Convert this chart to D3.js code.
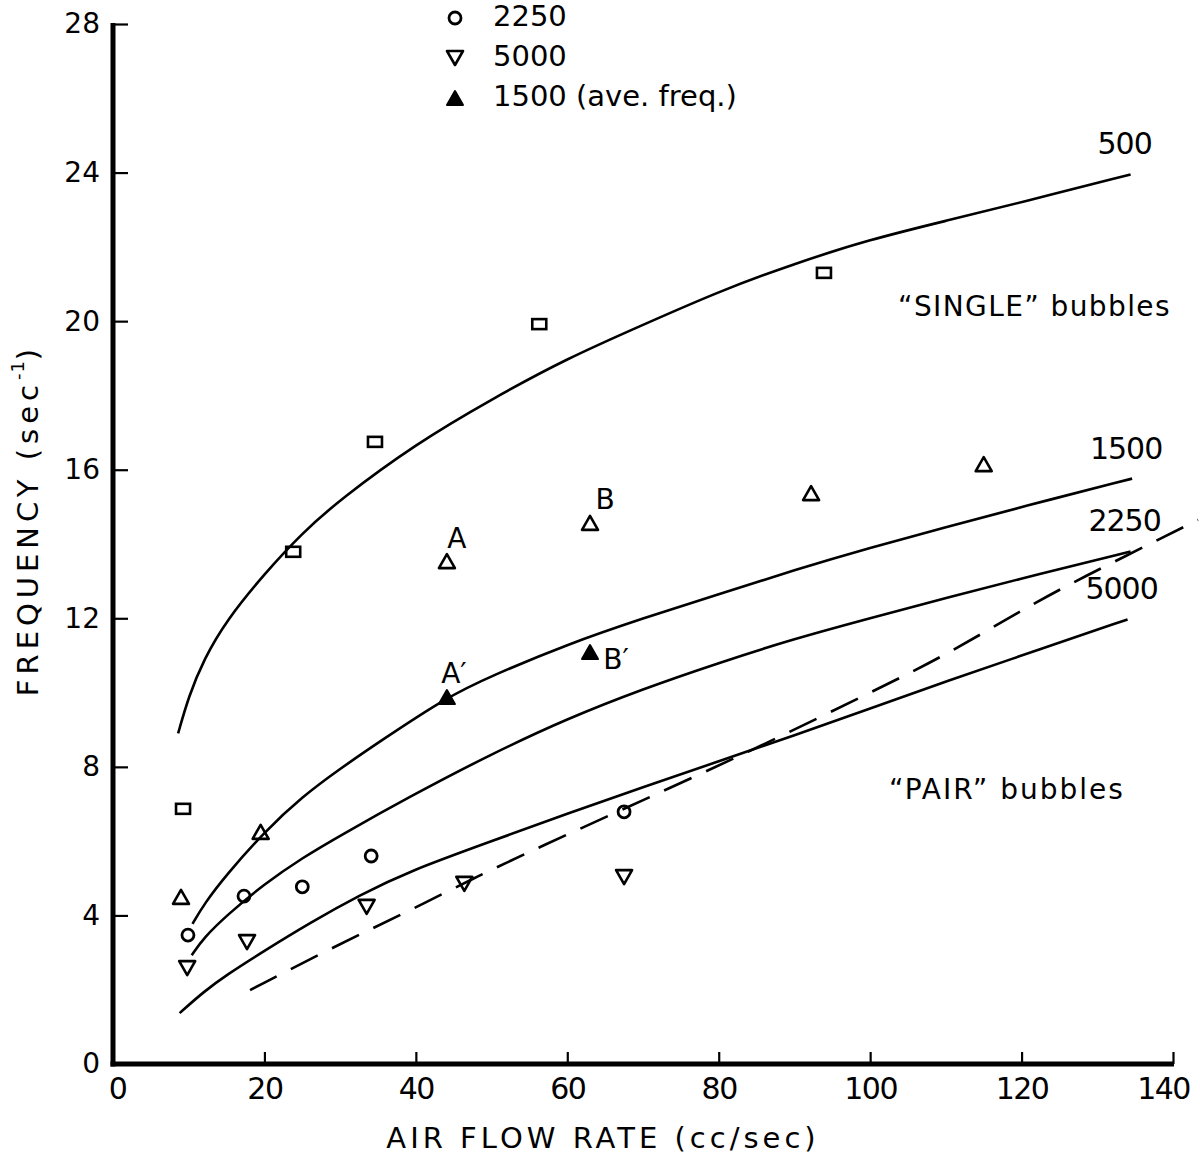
<!DOCTYPE html>
<html>
<head>
<meta charset="utf-8">
<script src="https://cdn.jsdelivr.net/npm/d3@7"></script>
<style>
	body { margin: 0; background: #fff; }
	svg text { font-family: "DejaVu Sans", sans-serif; fill: #000; }
</style>
</head>
<body>
<svg id="chart" width="1200" height="1157"></svg>
<script>
var xTicks = [0, 20, 40, 60, 80, 100, 120, 140];
var yTicks = [0, 4, 8, 12, 16, 20, 24, 28];

// measured points [air flow, frequency]
var pts500 = [[9.25, 6.87], [23.8, 13.79], [34.6, 16.75], [56.3, 19.92], [93.9, 21.3]];
var pts1500 = [[8.98, 4.5], [19.5, 6.25], [44.1, 13.54], [63.0, 14.57], [92.2, 15.37], [115.0, 16.15]];
var pts1500ave = [[44.1, 9.88], [63.0, 11.09]];
var pts2250 = [[9.9, 3.47], [17.3, 4.52], [25.0, 4.77], [34.1, 5.6], [67.5, 6.79]];
var pts5000 = [[9.8, 2.58], [17.7, 3.28], [33.5, 4.23], [46.4, 4.85], [67.5, 5.03]];

// fitted curves
var curve500 = [[8.6, 8.9], [10, 9.9], [12, 10.9], [15, 11.95], [20, 13.2], [25, 14.3], [30, 15.2], [40, 16.7], [50, 17.9], [60, 19.0], [70, 19.9], [80, 20.8], [90, 21.55], [100, 22.2], [110, 22.7], [120, 23.2], [134.4, 23.95]];
var curve1500 = [[10.5, 3.77], [12, 4.3], [15, 5.1], [20, 6.25], [25, 7.2], [30, 7.95], [35, 8.65], [44.1, 9.88], [50, 10.45], [60, 11.3], [70, 12.0], [80, 12.65], [90, 13.3], [100, 13.9], [110, 14.45], [120, 15.0], [134.6, 15.76]];
var curve2250 = [[10.4, 2.93], [12, 3.4], [15, 4.0], [20, 4.85], [25, 5.55], [30, 6.15], [39.2, 7.2], [50, 8.35], [60, 9.3], [70, 10.1], [80, 10.8], [90, 11.45], [100, 12.0], [110, 12.55], [122.5, 13.2], [134.4, 13.8]];
var curve5000 = [[8.8, 1.37], [12, 1.95], [15, 2.4], [20, 3.05], [26, 3.8], [32.6, 4.55], [39.2, 5.2], [50, 6.0], [60, 6.74], [70, 7.45], [80, 8.15], [90, 8.85], [100, 9.57], [110, 10.3], [122.5, 11.17], [134, 11.97]];
var dashed = [[18.1, 1.99], [29.6, 3.2], [38.6, 4.07], [47.6, 5.0], [56.4, 5.85], [70, 7.1], [85, 8.5], [100, 10.0], [110, 11.0], [122.3, 12.5], [131.9, 13.49], [143.3, 14.65]];

var curveLabels = [["500", 134.4, 23.95], ["1500", 134.6, 15.76], ["2250", 134.4, 13.8], ["5000", 134, 11.97]];
var legendKeys = ["circle", "down", "filled"];
var legendTexts = ["2250", "5000", "1500 (ave. freq.)"];

var svg = d3.select("#chart");
var x = d3.scaleLinear().domain([0, 140]).range([113, 1173]);
var y = d3.scaleLinear().domain([0, 28]).range([1064, 24]);

var line = d3.line()
    .x(function (d) { return x(d[0]); })
    .y(function (d) { return y(d[1]); })
    .curve(d3.curveBasis);

// axes: thick spine, inward ticks
var xAxis = svg.append("g")
    .attr("transform", "translate(0," + y(0) + ")")
    .call(d3.axisBottom(x).tickValues(xTicks).tickSize(-12).tickPadding(14));
xAxis.select(".domain").remove();
xAxis.selectAll(".tick line").attr("stroke-width", 2.2);
xAxis.selectAll(".tick text")
    .style("font-size", "30px").style("letter-spacing", "-1.5px")
    .attr("fill", "#000")
    .attr("x", function (d) { return d === 140 ? -10 : (d === 0 ? 4 : 0); });
xAxis.selectAll(".tick").filter(function (d) { return d === 0; }).select("line").remove();

var yAxis = svg.append("g")
    .attr("transform", "translate(" + x(0) + ",0)")
    .call(d3.axisLeft(y).tickValues(yTicks).tickSize(-15).tickPadding(13));
yAxis.select(".domain").remove();
yAxis.selectAll(".tick line").attr("stroke-width", 2.2);
yAxis.selectAll(".tick text").style("font-size", "28px").attr("fill", "#000");
yAxis.selectAll(".tick").filter(function (d) { return d === 0; }).select("line").remove();

svg.append("line")
    .attr("x1", x(0)).attr("x2", x(0))
    .attr("y1", y(28) - 1).attr("y2", y(0) + 2.5)
    .attr("stroke", "#000").attr("stroke-width", 5);
svg.append("line")
    .attr("x1", x(0) - 2.5).attr("x2", x(140) + 1)
    .attr("y1", y(0)).attr("y2", y(0))
    .attr("stroke", "#000").attr("stroke-width", 5);

svg.append("text")
    .attr("x", 603).attr("y", 1140)
    .attr("text-anchor", "middle").attr("dominant-baseline", "middle")
    .style("font-size", "29px").style("letter-spacing", "4px")
    .text("AIR FLOW RATE (cc/sec)");

var yTitle = svg.append("text")
    .attr("transform", "translate(30,520) rotate(-90)")
    .attr("text-anchor", "middle").attr("dominant-baseline", "middle")
    .style("font-size", "29px").style("letter-spacing", "5px");
yTitle.append("tspan").text("FREQUENCY (sec");
yTitle.append("tspan").attr("dy", -11).style("font-size", "18px").style("letter-spacing", "1px").text("-1");
yTitle.append("tspan").attr("dy", 11).text(")");

// curves
[curve500, curve1500, curve2250, curve5000].forEach(function (c) {
	svg.append("path")
	    .datum(c)
	    .attr("d", line)
	    .attr("fill", "none")
	    .attr("stroke", "#000")
	    .attr("stroke-width", 2.6);
});
svg.append("path")
    .datum(dashed)
    .attr("d", line)
    .attr("fill", "none")
    .attr("stroke", "#000")
    .attr("stroke-width", 2.6)
    .attr("stroke-dasharray", "30,16");

svg.selectAll("text.clabel")
    .data(curveLabels)
  .enter()
  .append("text").classed("clabel", true)
    .attr("x", function (d) { return x(d[1]) - 6; })
    .attr("y", function (d) { return y(d[2]) - 20; })
    .attr("text-anchor", "middle")
    .style("font-size", "30px").style("letter-spacing", "-1px")
    .text(function (d) { return d[0]; });

// markers
var markerMaker = {
	square: function (g) {
		g.append("rect")
		    .attr("x", -7).attr("y", -5).attr("width", 14).attr("height", 10)
		    .attr("fill", "none").attr("stroke", "#000").attr("stroke-width", 2.6);
	},
	up: function (g) {
		g.append("path").attr("d", "M0,-7L8,7L-8,7Z")
		    .attr("fill", "none").attr("stroke", "#000").attr("stroke-width", 2.6)
		    .attr("stroke-linejoin", "round");
	},
	filled: function (g) {
		g.append("path").attr("d", "M0,-7L8,7L-8,7Z")
		    .attr("fill", "#000").attr("stroke", "#000").attr("stroke-width", 2)
		    .attr("stroke-linejoin", "round");
	},
	circle: function (g) {
		g.append("circle").attr("r", 6)
		    .attr("fill", "none").attr("stroke", "#000").attr("stroke-width", 2.8);
	},
	down: function (g) {
		g.append("path").attr("d", "M0,7L8,-7L-8,-7Z")
		    .attr("fill", "none").attr("stroke", "#000").attr("stroke-width", 2.6)
		    .attr("stroke-linejoin", "round");
	}
};

function plotPoints(data, kind) {
	svg.append("g").selectAll("g")
	    .data(data)
	  .enter()
	  .append("g")
	    .attr("transform", function (d) { return "translate(" + x(d[0]) + "," + y(d[1]) + ")"; })
	    .each(function () { markerMaker[kind](d3.select(this)); });
}
plotPoints(pts500, "square");
plotPoints(pts1500, "up");
plotPoints(pts1500ave, "filled");
plotPoints(pts2250, "circle");
plotPoints(pts5000, "down");

// A / B labels next to the 1500 points
var abLabels = [["A", pts1500[2], 10, -21], ["B", pts1500[3], 15, -22], ["A\u2032", pts1500ave[0], 7, -22], ["B\u2032", pts1500ave[1], 26, 9]];
svg.selectAll("text.ab")
    .data(abLabels)
  .enter()
  .append("text").classed("ab", true)
    .attr("x", function (d) { return x(d[1][0]) + d[2]; })
    .attr("y", function (d) { return y(d[1][1]) + d[3]; })
    .attr("text-anchor", "middle").attr("dominant-baseline", "middle")
    .style("font-size", "28px")
    .text(function (d) { return d[0]; });

svg.append("text").attr("x", 898).attr("y", 316)
    .style("font-size", "28px").style("letter-spacing", "1.4px")
    .text("\u201CSINGLE\u201D bubbles");
svg.append("text").attr("x", 889).attr("y", 799)
    .style("font-size", "28px").style("letter-spacing", "2px")
    .text("\u201CPAIR\u201D bubbles");

// legend (rows for 500 and 1500 lie above the page)
var legend = svg.append("g").selectAll("g")
    .data(legendKeys)
  .enter()
  .append("g")
    .attr("transform", function (d, i) { return "translate(455," + (18 + i * 40) + ")"; });
legend.each(function (d) { markerMaker[d](d3.select(this)); });
legend.append("text")
    .attr("x", 38)
    .attr("dominant-baseline", "middle")
    .style("font-size", "29px")
    .text(function (d, i) { return legendTexts[i]; });
</script>
</body>
</html>
